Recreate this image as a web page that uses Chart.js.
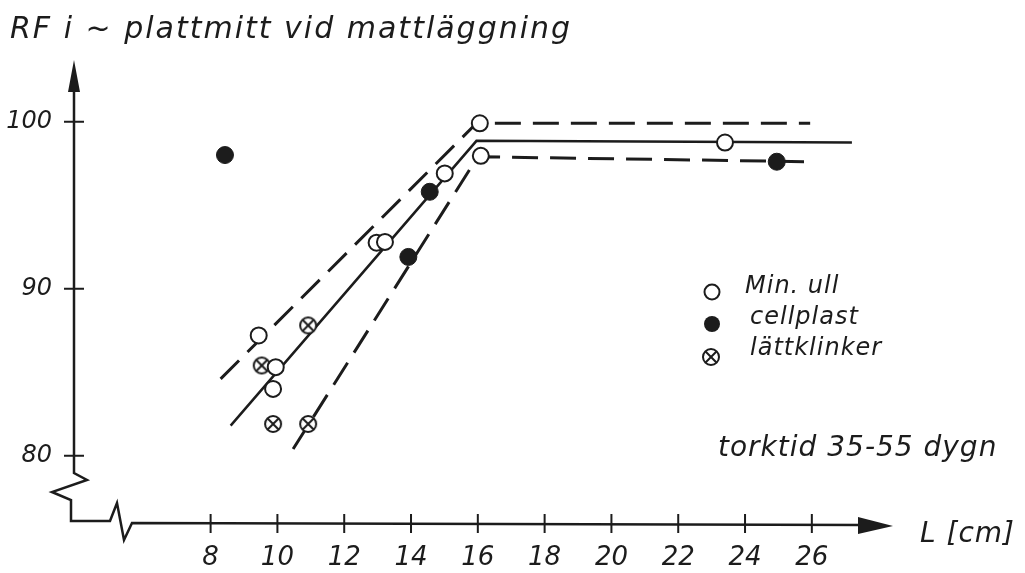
<!DOCTYPE html>
<html>
<head>
<meta charset="utf-8">
<script src="https://cdn.jsdelivr.net/npm/chart.js@4"></script>
<style>
  html, body { margin: 0; padding: 0; background: #fff; }
</style>
</head>
<body>
<canvas id="myChart" width="1025" height="573"></canvas>
<script>
// measured values, L in cm and RF in %
const minUllL = [9.44, 9.95, 9.87, 12.97, 13.22, 15.01, 16.06, 16.09, 23.4];
const minUllRF = [87.2, 85.3, 84.0, 92.75, 92.8, 96.9, 99.9, 97.95, 98.75];
const cellplastL = [8.43, 14.56, 13.92, 24.95];
const cellplastRF = [98.0, 95.8, 91.9, 97.6];
const lattklinkerL = [9.53, 10.92, 9.87, 10.92];
const lattklinkerRF = [85.4, 87.8, 81.9, 81.9];

// fitted lines
const midLineL = [8.6, 15.96, 27.2];
const midLineRF = [81.8, 98.85, 98.75];
const upperLineL = [8.3, 15.96, 25.95];
const upperLineRF = [84.6, 99.9, 99.9];
const lowerLineL = [10.47, 16.0, 25.85];
const lowerLineRF = [80.4, 97.9, 97.6];

const xTicks = [8, 10, 12, 14, 16, 18, 20, 22, 24, 26];
const yTicks = [80, 90, 100];

const ink = "#1c1c1c";
const fontFamily = "'DejaVu Sans', 'Liberation Sans', sans-serif";

const toPoints = (xs, ys) => xs.map((x, i) => ({ x, y: ys[i] }));

const crossedCircle = (r) => {
  const c = document.createElement("canvas");
  const s = 2 * r + 4;
  c.width = s;
  c.height = s;
  const g = c.getContext("2d");
  const m = s / 2;
  g.fillStyle = "#fff";
  g.strokeStyle = ink;
  g.lineWidth = 2;
  g.beginPath();
  g.arc(m, m, r, 0, Math.PI * 2);
  g.fill();
  g.stroke();
  const d = r * 0.68;
  g.beginPath();
  g.moveTo(m - d, m - d);
  g.lineTo(m + d, m + d);
  g.moveTo(m + d, m - d);
  g.lineTo(m - d, m + d);
  g.stroke();
  return c;
};
const crossImg = crossedCircle(8);

// hand drawn axes with arrows and breaks, plus the free texts
const axesPlugin = {
  id: "axes",
  beforeDatasetsDraw(chart) {
    const { ctx, chartArea, scales } = chart;
    const L = chartArea.left, B = chartArea.bottom, T = chartArea.top, R = chartArea.right;
    ctx.save();
    ctx.strokeStyle = ink;
    ctx.fillStyle = ink;
    ctx.lineWidth = 2.5;
    ctx.beginPath();
    ctx.moveTo(L, T + 20);
    ctx.lineTo(L, B - 50);
    ctx.lineTo(L + 13, B - 43);
    ctx.lineTo(L - 22, B - 31);
    ctx.lineTo(L - 3, B - 23);
    ctx.lineTo(L - 3, B - 2);
    ctx.lineTo(L + 36, B - 2);
    ctx.lineTo(L + 43, B - 20);
    ctx.lineTo(L + 50, B + 17);
    ctx.lineTo(L + 58, B);
    ctx.lineTo(R - 30, B + 2);
    ctx.stroke();
    // arrow heads
    ctx.beginPath();
    ctx.moveTo(L, T);
    ctx.lineTo(L + 6, T + 32);
    ctx.lineTo(L - 6, T + 32);
    ctx.closePath();
    ctx.fill();
    ctx.beginPath();
    ctx.moveTo(R, B + 3);
    ctx.lineTo(R - 35, B - 6);
    ctx.lineTo(R - 35, B + 11);
    ctx.closePath();
    ctx.fill();
    // tick marks
    ctx.lineWidth = 2;
    ctx.beginPath();
    yTicks.forEach((v) => {
      const y = scales.y.getPixelForValue(v);
      ctx.moveTo(L - 10, y);
      ctx.lineTo(L + 10, y);
    });
    xTicks.forEach((v) => {
      const x = scales.x.getPixelForValue(v);
      ctx.moveTo(x, B - 9);
      ctx.lineTo(x, B + 10);
    });
    ctx.stroke();
    ctx.restore();
  },
  afterDraw(chart) {
    const { ctx, chartArea } = chart;
    ctx.save();
    ctx.fillStyle = ink;
    ctx.textBaseline = "middle";

    ctx.font = `italic 30px ${fontFamily}`;
    ctx.letterSpacing = "2px";
    ctx.fillText("RF i ~ plattmitt vid mattläggning", 10, 30);

    ctx.font = `italic 28px ${fontFamily}`;
    ctx.letterSpacing = "1px";
    ctx.fillText("L [cm]", chartArea.right + 27, chartArea.bottom + 12);
    ctx.fillText("torktid 35-55 dygn", 718, 449);

    // legend
    ctx.font = `italic 24px ${fontFamily}`;
    ctx.letterSpacing = "1px";
    ctx.lineWidth = 2;
    ctx.strokeStyle = ink;
    ctx.fillStyle = "#fff";
    ctx.beginPath();
    ctx.arc(712, 292, 7.5, 0, Math.PI * 2);
    ctx.fill();
    ctx.stroke();
    ctx.fillStyle = ink;
    ctx.beginPath();
    ctx.arc(712, 324, 8, 0, Math.PI * 2);
    ctx.fill();
    ctx.drawImage(crossImg, 711 - crossImg.width / 2, 357 - crossImg.height / 2);
    ctx.fillText("Min. ull", 745, 287);
    ctx.fillText("cellplast", 750, 318);
    ctx.fillText("lättklinker", 750, 349);
    ctx.restore();
  },
};

const ctx = document.getElementById("myChart");

const data = {
  datasets: [
    {
      label: "Min. ull",
      data: toPoints(minUllL, minUllRF),
      pointStyle: "circle",
      pointRadius: 8,
      borderWidth: 2,
      borderColor: ink,
      backgroundColor: "#fff",
      order: 1,
    },
    {
      label: "cellplast",
      data: toPoints(cellplastL, cellplastRF),
      pointStyle: "circle",
      pointRadius: 8.5,
      borderWidth: 1,
      borderColor: ink,
      backgroundColor: ink,
      order: 1,
    },
    {
      label: "lättklinker",
      data: toPoints(lattklinkerL, lattklinkerRF),
      pointStyle: crossImg,
      pointRadius: 8,
      order: 1,
    },
    {
      label: "medel",
      data: toPoints(midLineL, midLineRF),
      showLine: true,
      pointRadius: 0,
      borderColor: ink,
      borderWidth: 2.5,
      order: 2,
    },
    {
      label: "övre",
      data: toPoints(upperLineL, upperLineRF),
      showLine: true,
      pointRadius: 0,
      borderColor: ink,
      borderWidth: 3,
      borderDash: [26, 12],
      order: 2,
    },
    {
      label: "undre",
      data: toPoints(lowerLineL, lowerLineRF),
      showLine: true,
      pointRadius: 0,
      borderColor: ink,
      borderWidth: 3,
      borderDash: [26, 12],
      order: 2,
    },
  ],
};

const chart = new Chart(ctx, {
  type: "scatter",
  data: data,
  options: {
    responsive: false,
    animation: false,
    layout: { padding: { left: 0, right: 132, top: 60, bottom: 0 } },
    plugins: {
      legend: { display: false },
      tooltip: { enabled: false },
      title: { display: false },
    },
    scales: {
      x: {
        type: "linear",
        min: 3.91,
        max: 28.43,
        grid: { display: false },
        border: { display: false },
        afterBuildTicks: (scale) => {
          scale.ticks = xTicks.map((v) => ({ value: v }));
        },
        afterFit: (scale) => {
          scale.height = 50;
        },
        ticks: {
          color: ink,
          padding: 12,
          maxRotation: 0,
          autoSkip: false,
          font: { family: fontFamily, size: 26, style: "italic" },
        },
      },
      y: {
        type: "linear",
        min: 75.97,
        max: 103.69,
        grid: { display: false },
        border: { display: false },
        afterBuildTicks: (scale) => {
          scale.ticks = yTicks.map((v) => ({ value: v }));
        },
        afterFit: (scale) => {
          scale.width = 74;
        },
        ticks: {
          color: ink,
          padding: 14,
          font: { family: fontFamily, size: 24, style: "italic" },
        },
      },
    },
  },
  plugins: [axesPlugin],
});
</script>
</body>
</html>
